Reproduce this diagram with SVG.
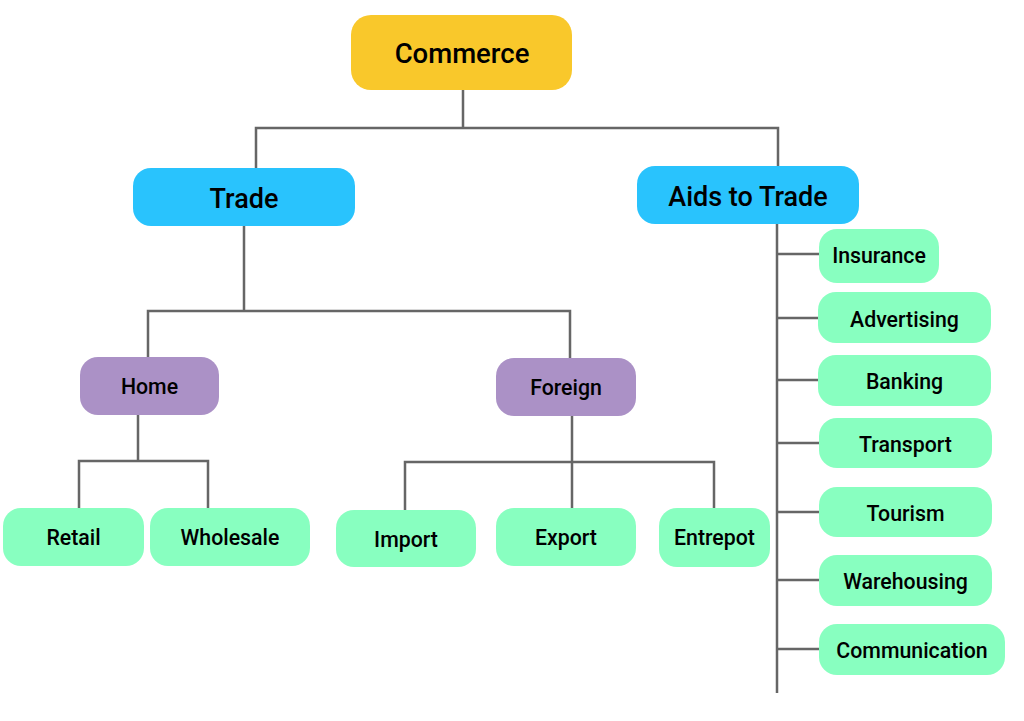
<svg xmlns="http://www.w3.org/2000/svg" width="1024" height="721" viewBox="0 0 1024 721">
<style>
.c{fill:none;stroke:#666;stroke-width:2.5}
.y{fill:#F9C82B}
.b{fill:#29C3FD}
.p{fill:#AB91C6}
.g{fill:#88FFC0}
text{font-family:Roboto,"Liberation Sans",sans-serif;font-weight:500;fill:#000;text-anchor:middle;dominant-baseline:central}
.t1{font-size:27.5px}
.t2{font-size:27px}
.t3{font-size:21.3px}
</style>
<rect width="1024" height="721" fill="#fff"/>
<g id="connectors">
<path class="c" d="M463 90V128M256 168V128H778V167"/>
<path class="c" d="M244 226V311M148 357V311H570V358"/>
<path class="c" d="M138 415V461M79 508V461H208V508"/>
<path class="c" d="M572 416V508M405 510V462H714V508"/>
<path class="c" d="M777 224V693M777 254H819M777 318H818M777 380H818M777 443H819M777 512H819M777 580H819M777 649H819"/>
</g>
<g id="commerce"><rect class="y" x="351" y="15" width="221" height="75" rx="20"/><text class="t1" x="462" y="53">Commerce</text></g>
<g id="trade"><rect class="b" x="133" y="168" width="222" height="58" rx="18"/><text class="t2" x="244" y="199">Trade</text></g>
<g id="aids"><rect class="b" x="637" y="166" width="222" height="58" rx="18"/><text class="t2" x="748" y="197">Aids to Trade</text></g>
<g id="home"><rect class="p" x="80" y="357" width="139" height="58" rx="18"/><text class="t3" x="149.5" y="386">Home</text></g>
<g id="foreign"><rect class="p" x="496" y="358" width="140" height="58" rx="18"/><text class="t3" x="566" y="387">Foreign</text></g>
<g id="retail"><rect class="g" x="3" y="508" width="141" height="58" rx="18"/><text class="t3" x="73.5" y="537">Retail</text></g>
<g id="wholesale"><rect class="g" x="150" y="508" width="160" height="58" rx="18"/><text class="t3" x="230" y="537">Wholesale</text></g>
<g id="import"><rect class="g" x="336" y="510" width="140" height="57" rx="18"/><text class="t3" x="406" y="539">Import</text></g>
<g id="export"><rect class="g" x="496" y="508" width="140" height="58" rx="18"/><text class="t3" x="566" y="537">Export</text></g>
<g id="entrepot"><rect class="g" x="659" y="508" width="111" height="59" rx="18"/><text class="t3" x="714.5" y="537">Entrepot</text></g>
<g id="insurance"><rect class="g" x="819" y="229" width="120" height="54" rx="18"/><text class="t3" x="879" y="255">Insurance</text></g>
<g id="advertising"><rect class="g" x="818" y="292" width="173" height="51" rx="18"/><text class="t3" x="904.5" y="319">Advertising</text></g>
<g id="banking"><rect class="g" x="818" y="355" width="173" height="51" rx="18"/><text class="t3" x="904.5" y="381">Banking</text></g>
<g id="transport"><rect class="g" x="819" y="418" width="173" height="50" rx="18"/><text class="t3" x="905.5" y="444">Transport</text></g>
<g id="tourism"><rect class="g" x="819" y="487" width="173" height="50" rx="18"/><text class="t3" x="905.5" y="513">Tourism</text></g>
<g id="warehousing"><rect class="g" x="819" y="555" width="173" height="51" rx="18"/><text class="t3" x="905.5" y="581">Warehousing</text></g>
<g id="communication"><rect class="g" x="819" y="624" width="186" height="51" rx="18"/><text class="t3" x="912" y="650">Communication</text></g>
</svg>
